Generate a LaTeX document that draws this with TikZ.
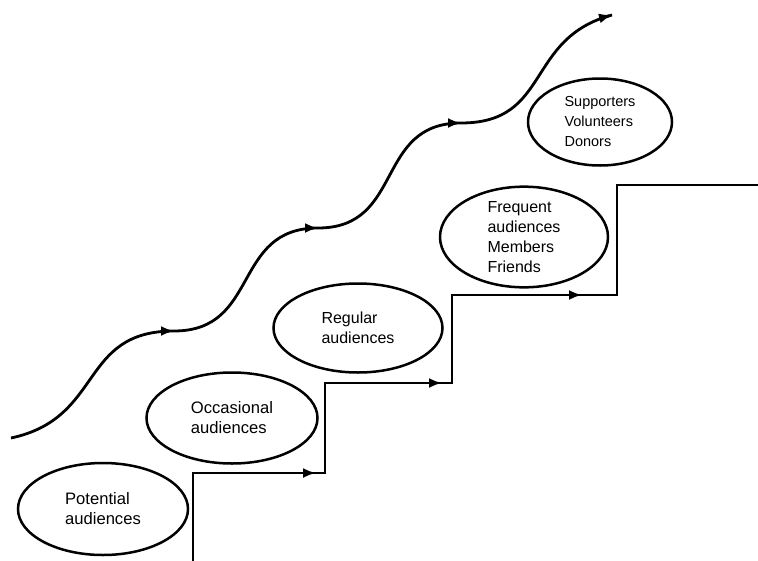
\documentclass[tikz,border=0pt]{standalone}
\usepackage{fontspec}
\setmainfont{Liberation Sans}
\usetikzlibrary{arrows.meta,shapes.geometric,calc}
\tikzset{
  aud/.style={draw, ellipse, line width=2.5pt, inner sep=0pt, align=left,
    font=\fontsize{16}{20}\selectfont},
  audbig/.style={aud, font=\fontsize{16.6}{20}\selectfont},
  flow/.style={line width=2.8pt, line join=miter},
  tipped/.style={flow, -{Latex[length=13pt,width=10pt]}},
  wv/.style={out=0, in=180, looseness=1.25},
}
\begin{document}
\begin{tikzpicture}[x=1pt,y=-1pt]
\useasboundingbox (0,0) rectangle (758,560);
% ellipses
\node[audbig, minimum width=170pt, minimum height=92pt] (pot) at (103,509) {Potential\\audiences};
\node[audbig, minimum width=171pt, minimum height=91pt] (occ) at (232,418) {Occasional\\audiences};
\node[aud, minimum width=169pt, minimum height=89pt] (reg) at (358,328) {Regular\\audiences};
\node[aud, minimum width=168pt, minimum height=87pt] (freq) at (524,237) {Frequent\\audiences\\Members\\Friends};
\node[aud, minimum width=144pt, minimum height=87pt, font=\fontsize{14.5}{20}\selectfont] (sup) at (600,122) {Supporters\\Volunteers\\Donors};
% staircase coordinates
\coordinate (s0) at (193,562);
\coordinate (c1) at (193,473);
\coordinate (a1) at (316,473);
\coordinate (c2) at (325,473);
\coordinate (c3) at (325,383);
\coordinate (a2) at (442,383);
\coordinate (c4) at (452,383);
\coordinate (c5) at (452,295);
\coordinate (a3) at (582,295);
\coordinate (c6) at (617,295);
\coordinate (c7) at (617,185);
\coordinate (s1) at (760,185);
\draw[flow] (s0) -- (c1) -- (c2) -- (c3) -- (c4) -- (c5) -- (c6) -- (c7) -- (s1);
\draw[tipped] (c1) -- (a1);
\draw[tipped] (c3) -- (a2);
\draw[tipped] (c5) -- (a3);
% wave coordinates
\coordinate (w0) at (11,438);
\coordinate (w1) at (174,331);
\coordinate (w2) at (318,228);
\coordinate (w3) at (461,123);
\coordinate (w4) at (612,15);
\coordinate (w4b) at ($(w4)+(-3,0.8)$);
\draw[flow] (w0) to[wv, out=12] (w1) to[wv] (w2) to[wv] (w3) to[wv, in=195] (w4);
\draw[tipped] ([xshift=-3pt]w1) -- (w1);
\draw[tipped] ([xshift=-3pt]w2) -- (w2);
\draw[tipped] ([xshift=-3pt]w3) -- (w3);
\draw[tipped] (w4b) -- (w4);
\end{tikzpicture}
\end{document}
